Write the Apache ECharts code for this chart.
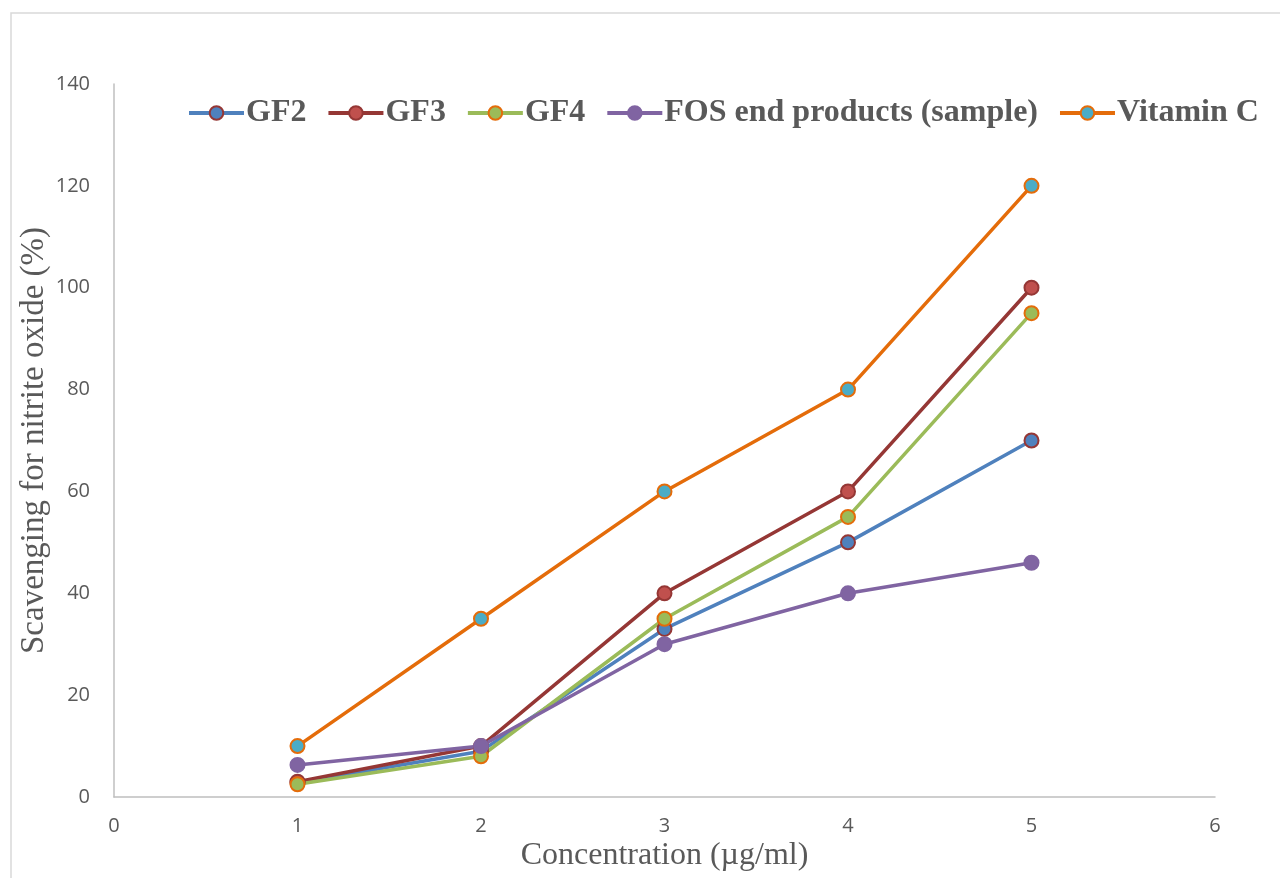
<!DOCTYPE html>
<html>
<head>
<meta charset="utf-8">
<script src="https://cdn.jsdelivr.net/npm/echarts@6/dist/echarts.min.js"></script>
<style>
  html, body { margin: 0; padding: 0; background: #fff; }
  #chart { width: 1280px; height: 878px; }
</style>
</head>
<body>
<div id="chart"></div>
<script>
// Concentration levels (µg/ml)
const concentrations = [1, 2, 3, 4, 5];

// Scavenging for nitrite oxide (%) per sample
const gf2 = [2.8, 9, 33, 50, 70];
const gf3 = [3, 10, 40, 60, 100];
const gf4 = [2.5, 8, 35, 55, 95];
const fosEnd = [6.3, 10, 30, 40, 46];
const vitaminC = [10, 35, 60, 80, 120];

const seriesDefs = [
  { name: 'GF2', values: gf2, line: '#4F81BD', fill: '#4F81BD', border: '#953735' },
  { name: 'GF3', values: gf3, line: '#953735', fill: '#C0504D', border: '#953735' },
  { name: 'GF4', values: gf4, line: '#9BBB59', fill: '#9BBB59', border: '#E46C0A' },
  { name: 'FOS end products (sample)', values: fosEnd, line: '#8064A2', fill: '#8064A2', border: '#8064A2' },
  { name: 'Vitamin C', values: vitaminC, line: '#E46C0A', fill: '#4BACC6', border: '#E46C0A' }
];

const chart = echarts.init(document.getElementById('chart'), null, { renderer: 'canvas' });

const axisLabelStyle = { color: '#595959', fontFamily: 'Open Sans', fontSize: 20 };

chart.setOption({
  backgroundColor: '#ffffff',
  animation: false,
  graphic: [{
    type: 'rect',
    shape: { x: 11, y: 13, width: 1300, height: 900 },
    style: { fill: 'none', stroke: '#d9d9d9', lineWidth: 1.5 },
    silent: true
  }],
  grid: { left: 114, right: 65, top: 84, bottom: 81, containLabel: false },
  legend: {
    top: 97,
    left: 187,
    width: 1093,
    padding: 0,
    itemWidth: 55,
    itemHeight: 17,
    itemGap: 20,
    lineStyle: { width: 4 },
    textStyle: {
      color: '#595959',
      fontFamily: 'Liberation Serif',
      fontWeight: 'bold',
      fontSize: 32,
      padding: [0, 0, 0, -3]
    },
    data: seriesDefs.map(s => s.name)
  },
  xAxis: {
    type: 'value',
    min: 0,
    max: 6,
    interval: 1,
    name: 'Concentration (µg/ml)',
    nameLocation: 'middle',
    nameGap: 43,
    nameMoveOverlap: false,
    nameTextStyle: { color: '#595959', fontFamily: 'Liberation Serif', fontSize: 32 },
    axisLine: { show: true, lineStyle: { color: '#bfbfbf', width: 1.5 } },
    axisTick: { show: false },
    splitLine: { show: false },
    axisLabel: Object.assign({ margin: 19 }, axisLabelStyle)
  },
  yAxis: {
    type: 'value',
    min: 0,
    max: 140,
    interval: 20,
    name: 'Scavenging for nitrite oxide (%)',
    nameLocation: 'middle',
    nameGap: 63,
    nameMoveOverlap: false,
    nameTextStyle: { color: '#595959', fontFamily: 'Liberation Serif', fontSize: 33 },
    axisLine: { show: true, lineStyle: { color: '#bfbfbf', width: 1.5 } },
    axisTick: { show: false },
    splitLine: { show: false },
    axisLabel: Object.assign({ margin: 24 }, axisLabelStyle)
  },
  series: seriesDefs.map(s => ({
    name: s.name,
    type: 'line',
    data: concentrations.map((c, i) => [c, s.values[i]]),
    symbol: 'circle',
    symbolSize: 14,
    lineStyle: { color: s.line, width: 3.5 },
    itemStyle: { color: s.fill, borderColor: s.border, borderWidth: 2 }
  }))
});
</script>
</body>
</html>
